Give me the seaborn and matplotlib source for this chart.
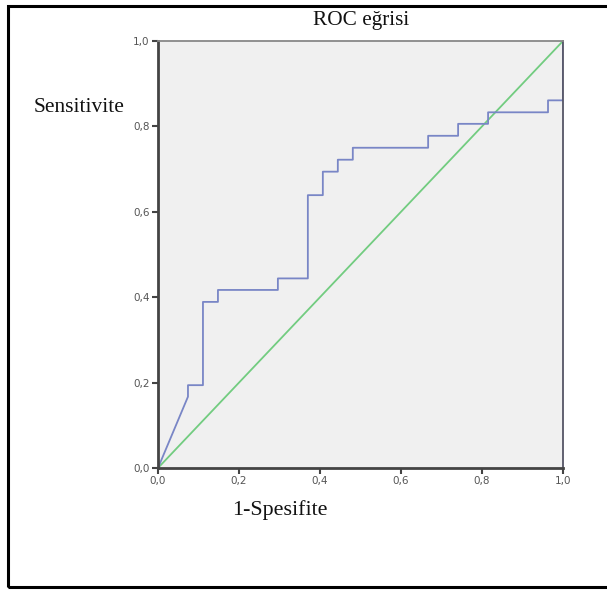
import matplotlib
matplotlib.use("Agg")
import matplotlib.pyplot as plt
import matplotlib.patches as mpatches
import seaborn as sns
import pandas as pd

# ROC curve points (1 - specificity, sensitivity)
fpr = [0.0, 0.074, 0.074, 0.111, 0.111, 0.148, 0.148, 0.296, 0.296, 0.370, 0.370,
       0.407, 0.407, 0.444, 0.444, 0.481, 0.481, 0.667, 0.667, 0.741, 0.741,
       0.815, 0.815, 0.963, 0.963, 1.0, 1.0]
tpr = [0.0, 0.167, 0.194, 0.194, 0.389, 0.389, 0.417, 0.417, 0.444, 0.444, 0.639,
       0.639, 0.694, 0.694, 0.722, 0.722, 0.750, 0.750, 0.778, 0.778, 0.806,
       0.806, 0.833, 0.833, 0.861, 0.861, 1.0]
ref_x = [0.0, 1.0]
ref_y = [0.0, 1.0]
tick_vals = [0.0, 0.2, 0.4, 0.6, 0.8, 1.0]
tick_labels = ["0,0", "0,2", "0,4", "0,6", "0,8", "1,0"]

roc = pd.DataFrame({"fpr": fpr, "tpr": tpr})
ref = pd.DataFrame({"x": ref_x, "y": ref_y})

fig = plt.figure(figsize=(6.07, 5.92), dpi=100)
fig.patch.set_facecolor("white")
ax = fig.add_axes([158/607, 1 - 468/592, 405/607, 427/592])
ax.set_facecolor("#f0f0f0")

sns.lineplot(data=ref, x="x", y="y", ax=ax, color="#72cc80", linewidth=1.3,
             estimator=None, sort=False)
sns.lineplot(data=roc, x="fpr", y="tpr", ax=ax, color="#7986c6", linewidth=1.3,
             estimator=None, sort=False)

ax.set_xlim(0, 1)
ax.set_ylim(0, 1)
ax.set_xticks(tick_vals)
ax.set_xticklabels(tick_labels)
ax.set_yticks(tick_vals)
ax.set_yticklabels(tick_labels)
ax.tick_params(axis="both", direction="out", length=4, width=1.5, color="#444444",
               labelsize=7.5, labelcolor="#555555", pad=2)
ax.set_xlabel("")
ax.set_ylabel("")
ax.grid(False)
for side in ["left", "bottom"]:
    ax.spines[side].set_color("#444444")
    ax.spines[side].set_linewidth(2.0)
ax.spines["right"].set_color("#555566")
ax.spines["right"].set_linewidth(1.3)
ax.spines["top"].set_color("#888888")
ax.spines["top"].set_linewidth(1.3)

serif = ["Liberation Serif", "DejaVu Serif"]
fig.text(361/607, 1 - 20/592, "ROC eğrisi", ha="center", va="center",
         fontsize=15.3, family=serif, color="#111111")
fig.text(79/607, 1 - 107/592, "Sensitivite", ha="center", va="center",
         fontsize=15.5, family=serif, color="#111111")
fig.text(280/607, 1 - 510/592, "1-Spesifite", ha="center", va="center",
         fontsize=15.8, family=serif, color="#111111")

border = mpatches.Rectangle((8/607, 1 - 587/592), 1.0, (586/592) - (5/592),
                            transform=fig.transFigure, fill=False,
                            edgecolor="black", linewidth=2.2, clip_on=False)
fig.patches.append(border)

fig.savefig("out.png", dpi=100)
